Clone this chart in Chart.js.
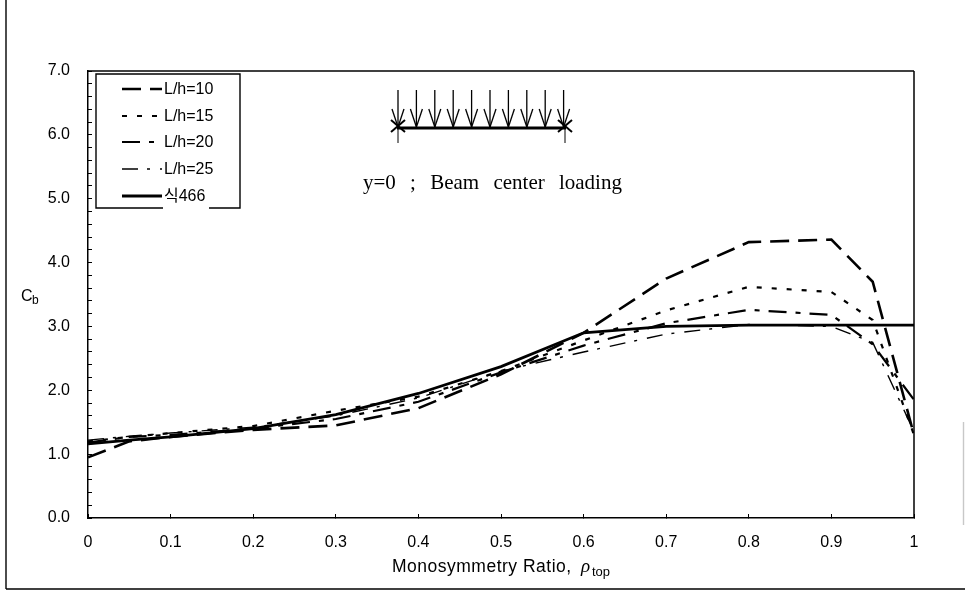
<!DOCTYPE html>
<html>
<head>
<meta charset="utf-8">
<title>Cb vs Monosymmetry Ratio</title>
<script src="https://cdn.jsdelivr.net/npm/chart.js@4"></script>
<style>
  html, body { margin: 0; padding: 0; background: #fff; }
  canvas { display: block; }
</style>
</head>
<body>
<canvas id="chart" width="965" height="591"></canvas>
<script>
const ratios = [0, 0.05, 0.1, 0.2, 0.3, 0.4, 0.5, 0.6, 0.7, 0.8, 0.9, 0.95, 1];
const lh10 = [0.95, 1.2, 1.27, 1.38, 1.45, 1.72, 2.25, 2.9, 3.75, 4.32, 4.36, 3.7, 1.3];
const lh15 = [1.2, 1.27, 1.33, 1.44, 1.68, 1.9, 2.3, 2.78, 3.25, 3.62, 3.54, 3.1, 1.3];
const lh20 = [1.18, 1.27, 1.3, 1.4, 1.55, 1.82, 2.28, 2.7, 3.05, 3.26, 3.18, 2.72, 1.85];
const lh25 = [1.22, 1.28, 1.33, 1.42, 1.6, 1.88, 2.3, 2.6, 2.88, 3.03, 3.0, 2.75, 1.35];
const eq466 = [1.16, 1.22, 1.27, 1.4, 1.62, 1.95, 2.37, 2.9, 3.0, 3.02, 3.02, 3.02, 3.02];
const seriesNames = ['L/h=10', 'L/h=15', 'L/h=20', 'L/h=25', '식466'];
const diagramText = 'y=0 ; Beam center loading';
const SANS = '"Liberation Sans", Arial, "Noto Sans CJK KR", sans-serif';

const STYLES = [
  { dash: [19, 9], width: 2.6 },
  { dash: [5, 10], width: 2.2 },
  { dash: [18, 9, 5, 9], width: 2.2 },
  { dash: [16, 9, 3, 10], width: 1.4 },
  { dash: [], width: 2.8 },
];

function toPoints(values) {
  return values.map((v, i) => ({ x: ratios[i], y: v }));
}

const datasets = [lh10, lh15, lh20, lh25, eq466].map((values, i) => ({
  label: seriesNames[i],
  data: toPoints(values),
  borderColor: '#000',
  backgroundColor: 'transparent',
  borderWidth: STYLES[i].width,
  borderDash: STYLES[i].dash,
  pointRadius: 0,
  tension: 0,
}));

function line(ctx, x1, y1, x2, y2) {
  ctx.beginPath();
  ctx.moveTo(x1, y1);
  ctx.lineTo(x2, y2);
  ctx.stroke();
}

function drawLegend(ctx) {
  ctx.strokeStyle = '#000';
  ctx.lineWidth = 1.4;
  ctx.beginPath();
  ctx.moveTo(163, 208); ctx.lineTo(96, 208); ctx.lineTo(96, 74);
  ctx.lineTo(240, 74); ctx.lineTo(240, 208); ctx.lineTo(209, 208);
  ctx.stroke();
  const rowY = [89, 116, 142, 169, 196];
  ctx.font = '16px ' + SANS;
  ctx.textAlign = 'left';
  ctx.textBaseline = 'middle';
  ctx.fillStyle = '#000';
  seriesNames.forEach((name, i) => {
    ctx.save();
    ctx.lineWidth = STYLES[i].width;
    ctx.setLineDash(STYLES[i].dash);
    line(ctx, 122, rowY[i], 162, rowY[i]);
    ctx.restore();
    ctx.fillText(name, 164, rowY[i] + 1);
  });
}

function drawBeam(ctx) {
  ctx.strokeStyle = '#000';
  ctx.lineWidth = 3;
  line(ctx, 397, 128, 566, 128);
  ctx.lineWidth = 1.3;
  for (let i = 0; i < 10; i++) {
    const x = 398 + i * 18.4;
    line(ctx, x, 90, x, 127);
    line(ctx, x - 6, 109, x, 127);
    line(ctx, x + 6, 109, x, 127);
  }
  [398, 565].forEach(x => {
    ctx.lineWidth = 2;
    line(ctx, x - 7, 120, x + 7, 132);
    line(ctx, x - 7, 132, x + 7, 120);
    ctx.lineWidth = 1;
    line(ctx, x, 126, x, 143);
  });
  ctx.fillStyle = '#000';
  ctx.font = '21px "Liberation Serif", "Times New Roman", serif';
  ctx.wordSpacing = '9px';
  ctx.textAlign = 'left';
  ctx.textBaseline = 'middle';
  ctx.fillText(diagramText, 363, 183);
  ctx.wordSpacing = '0px';
}

function drawAxisTitles(ctx) {
  ctx.fillStyle = '#000';
  ctx.textAlign = 'left';
  ctx.textBaseline = 'alphabetic';
  ctx.font = '16px ' + SANS;
  ctx.fillText('C', 21, 301);
  ctx.font = '12px ' + SANS;
  ctx.fillText('b', 32, 304);

  ctx.font = '17.5px ' + SANS;
  ctx.letterSpacing = '0.5px';
  ctx.fillText('Monosymmetry Ratio,', 392, 572);
  ctx.letterSpacing = '0px';
  ctx.font = 'italic 19px "Liberation Serif", serif';
  ctx.fillText('ρ', 581, 572);
  ctx.font = '13px ' + SANS;
  ctx.fillText('top', 592, 576);
}

const decorations = {
  id: 'decorations',
  afterDraw(chart) {
    const ctx = chart.ctx;
    const a = chart.chartArea;
    ctx.save();
    // plot box, top and right sides
    ctx.strokeStyle = '#000';
    ctx.lineWidth = 1.5;
    line(ctx, a.left, a.top, a.right, a.top);
    line(ctx, a.right, a.top, a.right, a.bottom);
    // scanned page frame
    ctx.lineWidth = 1.4;
    line(ctx, 6, 0, 6, 589);
    line(ctx, 6, 589, 965, 589);
    ctx.strokeStyle = '#c8c8c8';
    line(ctx, 963.5, 422, 963.5, 525);
    drawLegend(ctx);
    drawBeam(ctx);
    drawAxisTitles(ctx);
    ctx.restore();
  },
};

new Chart(document.getElementById('chart'), {
  type: 'line',
  data: { datasets },
  plugins: [decorations],
  options: {
    responsive: false,
    animation: false,
    layout: { padding: { top: 71, right: 51, bottom: 0, left: 0 } },
    plugins: { legend: { display: false }, tooltip: { enabled: false } },
    scales: {
      x: {
        type: 'linear',
        min: 0,
        max: 1,
        afterFit: s => { s.height = 73; },
        border: { color: '#000', width: 1.5 },
        grid: { drawOnChartArea: false, tickLength: -4, color: '#000', tickWidth: 1 },
        ticks: {
          stepSize: 0.1,
          autoSkip: false,
          maxRotation: 0,
          color: '#000',
          font: { size: 16, family: SANS },
          padding: 19,
          callback: v => (v === 0 || v === 1) ? String(v) : v.toFixed(1),
        },
      },
      y: {
        min: 0,
        max: 7,
        afterFit: s => { s.width = 88; },
        border: { color: '#000', width: 1.5 },
        grid: { drawOnChartArea: false, tickLength: -4, color: '#000', tickWidth: 1 },
        ticks: {
          stepSize: 0.2,
          autoSkip: false,
          color: '#000',
          font: { size: 16, family: SANS },
          padding: 22,
          callback: v => Math.abs(v - Math.round(v)) < 1e-6 ? v.toFixed(1) : '',
        },
      },
    },
  },
});
</script>
</body>
</html>
